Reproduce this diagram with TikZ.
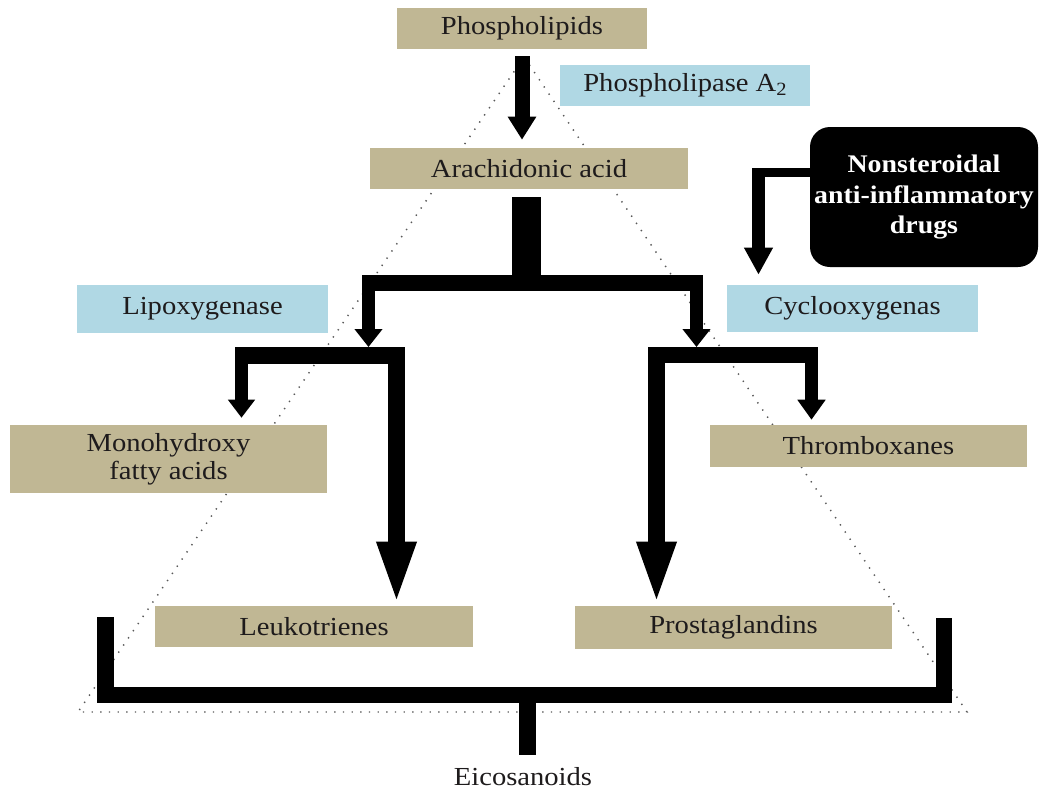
\documentclass[tikz,border=0pt]{standalone}
\usepackage{fontspec}
\setmainfont{Liberation Serif}[FakeStretch=1.1]
\usetikzlibrary{arrows.meta}
\definecolor{tanc}{RGB}{192,183,148}
\definecolor{lblue}{RGB}{176,216,228}
\definecolor{ink}{RGB}{30,27,28}
\begin{document}
\begin{tikzpicture}[x=0.75pt,y=-0.75pt,
  lbl/.style={inner sep=0pt, font=\fontsize{19.5}{21}\selectfont, text=ink, align=center},
  tanbox/.style={lbl, fill=tanc},
  bluebox/.style={lbl, fill=lblue},
  blk/.style={draw=black, line cap=butt, line join=miter},
  dots/.style={draw=gray!70!black, line width=1.1pt, dash pattern=on 1pt off 5.5pt}]
\useasboundingbox (0,0) rectangle (1040,790);
% dotted triangle
\coordinate (apex) at (524,57);
\coordinate (bl) at (78,712);
\coordinate (br) at (967,712);
\draw[dots] (apex) -- (bl) -- (br) -- cycle;
% boxes
\node[tanbox, minimum width=187.5pt, minimum height=30.75pt] (phos) at (522,28.5) {Phospholipids};
\node[bluebox, minimum width=187.5pt, minimum height=30.75pt] (pla) at (685,85.5) {Phospholipase A\raisebox{-0.35ex}{\fontsize{14}{14}\selectfont 2}};
\node[tanbox, minimum width=238.5pt, minimum height=30.75pt] (arach) at (529,168.5) {Arachidonic acid};
\node[bluebox, minimum width=188.25pt, minimum height=36pt] (lox) at (202.5,309) {Lipoxygenase};
\node[bluebox, minimum width=188.25pt, minimum height=35.25pt] (cox) at (852.5,308.5) {Cyclooxygenas};
\node[lbl, fill=black, text=white, font=\bfseries\fontsize{19}{23}\selectfont, rounded corners=15pt, minimum width=171pt, minimum height=105pt] (nsaid) at (924,197) {Nonsteroidal\\anti-inflammatory\\drugs};
\node[tanbox, minimum width=237.75pt, minimum height=51pt] (mono) at (168.5,459) {Monohydroxy\\fatty acids};
\node[tanbox, minimum width=237.75pt, minimum height=31.5pt] (thx) at (868.5,446) {Thromboxanes};
\node[tanbox, minimum width=238.5pt, minimum height=30.75pt] (lt) at (314,626.5) {Leukotrienes};
\node[tanbox, minimum width=237.75pt, minimum height=32.25pt] (pg) at (733.5,627.5) {Prostaglandins};
\node[lbl] (eic) at (523,777) {Eicosanoids};
% phospholipids -> arachidonic acid
\draw[blk, line width=11.25pt, -{Triangle[width=20.25pt,length=17.25pt]}, shorten <=5.25pt, shorten >=6pt] (phos.south) -- (phos.south |- arach.north);
% arachidonic fork
\coordinate (forkT) at (526.5,283);
\coordinate (barL) at (362,283);
\coordinate (barR) at (703,283);
\coordinate (loxIn) at (368.5,275);
\coordinate (loxTip) at (368.5,347);
\coordinate (coxIn) at (696.5,275);
\coordinate (coxTip) at (696.5,347);
\draw[blk, line width=21.75pt, shorten <=6pt] (arach.south -| forkT) -- (forkT);
\draw[blk, line width=12pt] (barL) -- (barR);
\draw[blk, line width=9.75pt, -{Triangle[width=20.25pt,length=13.5pt]}] (loxIn) -- (loxTip);
\draw[blk, line width=9.75pt, -{Triangle[width=20.25pt,length=13.5pt]}] (coxIn) -- (coxTip);
% lipoxygenase sub-fork
\coordinate (lbarL) at (235,355.5);
\coordinate (lbarR) at (405,355.5);
\coordinate (monoIn) at (241.5,347);
\coordinate (ltIn) at (396.5,347);
\draw[blk, line width=12.75pt] (lbarL) -- (lbarR);
\draw[blk, line width=9.75pt, -{Triangle[width=19.5pt,length=13.5pt]}, shorten >=5.25pt] (monoIn) -- (mono.north -| monoIn);
\draw[blk, line width=12.75pt, -{Triangle[width=26.25pt,length=48pt]}] (ltIn) -- (lt.north -| ltIn);
% cyclooxygenase sub-fork
\coordinate (rbarL) at (648,355);
\coordinate (rbarR) at (818,355);
\coordinate (pgIn) at (656.5,347);
\coordinate (thxIn) at (811.5,347);
\draw[blk, line width=12pt] (rbarL) -- (rbarR);
\draw[blk, line width=12.75pt, -{Triangle[width=26.25pt,length=48pt]}] (pgIn) -- (pg.north -| pgIn);
\draw[blk, line width=9.75pt, -{Triangle[width=20.25pt,length=15pt]}, shorten >=3.75pt] (thxIn) -- (thx.north -| thxIn);
% NSAID inhibition arrow
\coordinate (nsH) at (752,172.5);
\coordinate (nsV) at (758.5,168);
\draw[blk, line width=7pt] (nsaid.west |- nsH) -- (nsH);
\draw[blk, line width=9.75pt, -{Triangle[width=20.25pt,length=20.25pt]}, shorten >=7.5pt] (nsV) -- (cox.north -| nsV);
% bottom bracket
\coordinate (brL) at (105.5,617);
\coordinate (brLc) at (105.5,695);
\coordinate (brRc) at (944,695);
\coordinate (brR) at (944,618);
\coordinate (stemT) at (527.5,695);
\coordinate (stemB) at (527.5,755);
\draw[blk, line width=12.375pt] (brL) -- (brLc) -- (brRc) -- (brR);
\draw[blk, line width=12.75pt] (stemT) -- (stemB);
\end{tikzpicture}
\end{document}
